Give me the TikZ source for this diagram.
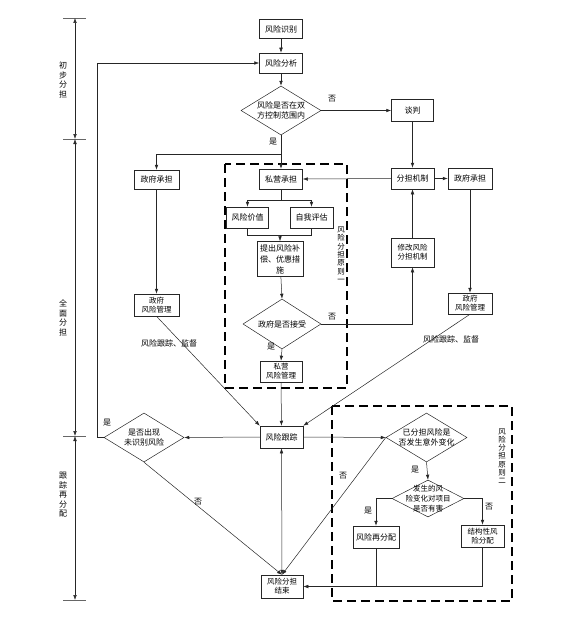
\documentclass[tikz,border=0pt]{standalone}
\usepackage{fontspec}
\newfontfamily\cjk{Noto Sans CJK SC}
\usetikzlibrary{shapes.geometric,arrows.meta}
\begin{document}
\begin{tikzpicture}[x=1pt,y=-1pt,
  font={\cjk\fontsize{8}{10}\selectfont},
  line width=0.5pt, draw=black!85,
  box/.style={draw=black!85, rectangle, inner sep=1pt, align=center, minimum width=43pt, minimum height=21pt},
  box2/.style={box, font={\cjk\fontsize{7.5}{9}\selectfont}},
  dia/.style={draw=black!85, diamond, inner sep=0pt},
  lab/.style={inner sep=0pt, align=center},
  vlab/.style={inner sep=0pt, align=center, font={\cjk\fontsize{7.5}{8.3}\selectfont}},
  alab/.style={inner sep=0pt, align=center, font={\cjk\fontsize{8}{9.5}\selectfont}},
  arr/.style={draw=black!85, -{Latex[length=5pt,width=3.6pt]}},
  arrtwo/.style={draw=black!85, {Latex[length=5pt,width=3.6pt]}-{Latex[length=5pt,width=3.6pt]}},
  ln/.style={draw=black!85},
  dbox/.style={draw=black, line width=2.2pt, dash pattern=on 9pt off 5pt},
  tick/.style={draw=black!60, line width=0.4pt}
]
\useasboundingbox (0,0) rectangle (579,626);

% ---- left axis ----
\coordinate (a0) at (75,18);
\coordinate (a1) at (75,139);
\coordinate (a2) at (75,436);
\coordinate (a3) at (75,600);
\draw[tick] (63,18) -- (86,18);
\draw[tick] (63,139) -- (86,139);
\draw[tick] (63,436) -- (86,436);
\draw[tick] (63,600) -- (86,600);
\draw[arrtwo] (a0) -- (a1);
\draw[arrtwo] (a1) -- (a2);
\draw[arrtwo] (a2) -- (a3);
\node[alab] (ax1) at (63,80) {初\\步\\分\\担};
\node[alab] (ax2) at (63,318) {全\\面\\分\\担};
\node[alab] (ax3) at (63,495) {跟\\踪\\再\\分\\配};

% ---- nodes ----
\node[box, minimum height=19pt] (r1) at (281,29) {风险识别};
\node[box, minimum height=20pt] (r2) at (281,63) {风险分析};
\node[dia, minimum width=80pt, minimum height=49pt] (d1) at (281,110.5) {};
\node[lab] (d1t) at (d1) {风险是否在双\\方控制范围内};
\node[box, minimum width=42pt, minimum height=22pt] (tp) at (412.5,110.5) {谈判};

\node[box, minimum height=20pt] (sy) at (281,179) {私营承担};
\node[box, minimum width=45pt, minimum height=19pt] (zf1) at (156.5,179.5) {政府承担};
\node[box] (fj) at (412.5,178.5) {分担机制};
\node[box, minimum width=44pt] (zf2) at (470,178.5) {政府承担};

\node[box, minimum width=42pt] (fx) at (247.5,217.5) {风险价值};
\node[box] (zw) at (311.5,217.5) {自我评估};
\node[box, minimum width=46pt, minimum height=35pt, font={\cjk\fontsize{8}{11}\selectfont}] (tc) at (280,259) {提出风险补\\偿、优惠措\\施};
\node[dia, minimum width=78pt, minimum height=50pt] (d2) at (282,324) {};
\node[lab] (d2t) at (d2) {政府是否接受};
\node[box2, minimum height=29pt] (xg) at (412.5,252.5) {修改风险\\分担机制};
\node[box2, minimum width=42pt] (sg) at (281,371.5) {私营\\风险管理};
\node[box2, minimum width=45pt, minimum height=22pt] (zg1) at (156.5,305) {政府\\风险管理};
\node[box2, minimum width=44pt] (zg2) at (470,303.5) {政府\\风险管理};

\node[box, minimum height=22pt] (gz) at (281.5,437) {风险跟踪};
\node[dia, minimum width=80pt, minimum height=49pt] (d3) at (144,437.5) {};
\node[lab] (d3t) at (d3) {是否出现\\未识别风险};
\node[box2, minimum width=42pt, minimum height=23pt] (end) at (282,586.5) {风险分担\\结束};

\node[dia, minimum width=81pt, minimum height=49pt] (d4) at (426.5,437.5) {};
\node[lab] (d4t) at (d4) {已分担风险是\\否发生意外变化};
\node[dia, minimum width=72pt, minimum height=37pt] (d5) at (428,498.5) {};
\node[lab, font={\cjk\fontsize{7.5}{10}\selectfont}] (d5t) at (d5) {发生的风\\险变化对项目\\是否有害};
\node[box, minimum width=46pt, minimum height=22pt] (zr) at (376,537) {风险再分配};
\node[box2, minimum width=43pt, minimum height=22pt] (jg) at (482.5,536) {结构性风\\险分配};

% ---- dashed frames ----
\draw[dbox] (225,164) rectangle (347,388);
\draw[dbox] (332,406) rectangle (512,601);
\node[vlab] (p1) at (341,254.5) {风\\险\\分\\担\\原\\则\\一};
\node[vlab] (p2) at (502,456) {风\\险\\分\\担\\原\\则\\二};

% ---- connectors ----
\draw[arr] (r1) -- (r2);
\draw[arr] (r2) -- (d1.north);
\draw[arr] (d1.east) -- (tp.west);
\node[lab] (n1) at (332,99) {否};
\draw[arr] (tp) -- (fj);
\draw[arr] (d1.south) -- (sy.north);
\node[lab] (y1) at (273,142) {是};
\coordinate (c1) at (281,154);
\draw[arr] (c1) -| (zf1.north);
\draw[arr] (fj.west) -- (sy.east);
\draw[arr] (fj.east) -- (zf2.west);
\draw[arr] (zf1) -- (zg1);
\draw[arr] (zf2) -- (zg2);

\coordinate (c2) at (281,200);
\draw[ln] (sy.south) -- (c2);
\draw[arr] (c2) -| (fx.north);
\draw[arr] (c2) -| (zw.north);
\coordinate (c3) at (280,235);
\draw[ln] (fx.south) |- (zw.south |- c3) -- (zw.south);
\draw[arr] (c3) -- (tc.north);
\draw[arr] (tc) -- (d2.north);
\draw[arr] (d2.east) -| (xg.south);
\node[lab] (n2) at (332,317) {否};
\draw[arr] (xg) -- (fj);
\draw[arr] (d2.south) -- (sg.north);
\node[lab] (y2) at (271,347) {是};
\draw[arr] (sg) -- (gz);

\draw[arr] (zg1.south) -- (gz.north west);
\draw[arr] (zg2.south) -- (gz.north east);
\node[lab] (t1) at (169,343) {风险跟踪、监督};
\node[lab] (t2) at (451,339) {风险跟踪、监督};

\draw[arr] (gz.west) -- (d3.east);
\draw[arr] (d3.west) -- ++(-7,0) |- (r2.west);
\node[lab] (y3) at (107,423) {是};
\draw[arr] (d3.south) -- (end.north);
\node[lab] (n3) at (198,502) {否};
\draw[arrtwo] (gz.south) -- (end.north);
\draw[arr] (gz.east) -- (d4.west);
\draw[arr] (d4.west) -- (end.north);
\node[lab] (n4) at (343,476) {否};

\draw[arr] (d4.south) -- (d5.north);
\node[lab] (y4) at (415,470) {是};
\draw[arr] (d5.west) -| (zr.north);
\node[lab] (y5) at (368,511) {是};
\draw[arr] (d5.east) -| (jg.north);
\node[lab] (n5) at (489,507) {否};
\draw[ln] (zr.south) -- (zr.south |- end.east);
\draw[arr] (jg.south) |- (end.east);
\end{tikzpicture}
\end{document}
